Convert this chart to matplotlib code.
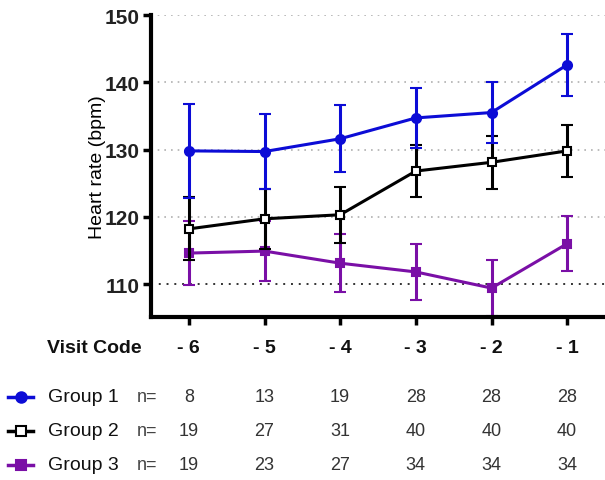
import numpy as np
import matplotlib
matplotlib.use("Agg")
import matplotlib.pyplot as plt
import matplotlib.transforms as mtransforms

plt.rcParams['font.family'] = ['Liberation Sans', 'DejaVu Sans']

# data
visits = [-6, -5, -4, -3, -2, -1]
visit_labels = ['- 6', '- 5', '- 4', '- 3', '- 2', '- 1']

g1_mean = [129.8, 129.7, 131.6, 134.7, 135.5, 142.6]
g1_err = [7.0, 5.6, 5.0, 4.5, 4.5, 4.6]
g2_mean = [118.2, 119.7, 120.3, 126.8, 128.1, 129.8]
g2_err = [4.7, 4.5, 4.2, 3.9, 3.9, 3.9]
g3_mean = [114.6, 114.9, 113.1, 111.8, 109.4, 116.0]
g3_err = [4.7, 4.5, 4.3, 4.1, 4.1, 4.1]

group_names = ['Group 1', 'Group 2', 'Group 3']
n_counts = [
    [8, 13, 19, 28, 28, 28],
    [19, 27, 31, 40, 40, 40],
    [19, 23, 27, 34, 34, 34],
]

blue = '#0c0cd6'
purple = '#7a0fa6'

fig = plt.figure(figsize=(6.05, 4.81), dpi=100)
ax = fig.add_axes([0.2496, 0.3389, 0.7504, 0.6278])

styles = [
    dict(mean=g1_mean, err=g1_err, color=blue, marker='o', ms=6.5, mfc=blue),
    dict(mean=g2_mean, err=g2_err, color='black', marker='s', ms=5.5, mfc='white'),
    dict(mean=g3_mean, err=g3_err, color=purple, marker='s', ms=5.5, mfc=purple),
]

# purple at the bottom, blue on top
for z, s in zip([4, 3, 2], styles):
    ax.errorbar(visits, s['mean'], yerr=s['err'], color=s['color'], lw=2.2,
                marker=s['marker'], ms=s['ms'], mfc=s['mfc'], mec=s['color'],
                mew=1.5, capsize=4, capthick=2.5, elinewidth=2.2, zorder=z)

ax.set_xlim(-6.5, -0.5)
ax.set_ylim(105.1, 150)
ax.set_yticks([110, 120, 130, 140, 150])
ax.set_xticks(visits)
ax.set_xticklabels([])

for y in [120, 130, 140, 150]:
    ax.axhline(y, color='#b0b0b0', ls=(0, (1, 3)), lw=1.2, zorder=1)
ax.axhline(110, color='#333333', ls=(0, (1, 3)), lw=1.4, zorder=1)

for side in ['top', 'right']:
    ax.spines[side].set_visible(False)
for side in ['left', 'bottom']:
    ax.spines[side].set_linewidth(3)
ax.tick_params(axis='both', direction='out', length=6, width=2.5, colors='black')
ax.tick_params(axis='y', labelsize=15, pad=2)
for lbl in ax.get_yticklabels():
    lbl.set_fontweight('bold')
    lbl.set_color('#222222')
ax.set_ylabel('Heart rate (bpm)', fontsize=14, labelpad=-1)

# table underneath the axis: x in data units, y in figure units
trans = mtransforms.blended_transform_factory(ax.transData, fig.transFigure)


def fy(px):
    return 1 - px / 481.0


fig.text(47 / 605, fy(349), 'Visit Code', fontsize=14, fontweight='bold',
         va='center', ha='left', color='#111111')
for x, lab in zip(visits, visit_labels):
    fig.text(x, fy(349), lab, transform=trans, fontsize=14, fontweight='bold',
             ha='center', va='center', color='#111111')

row_y = [398, 432, 466]
for i, (name, counts, s) in enumerate(zip(group_names, n_counts, styles)):
    yy = fy(row_y[i])
    fig.lines.append(plt.Line2D([8 / 605, 33 / 605], [yy, yy], transform=fig.transFigure,
                                color=s['color'], lw=2.5))
    fig.lines.append(plt.Line2D([21 / 605], [yy], transform=fig.transFigure,
                                color=s['color'], marker=s['marker'], ls='none',
                                ms=s['ms'] + 1, mfc=s['mfc'], mec=s['color'], mew=1.5))
    fig.text(48 / 605, yy, name, fontsize=14, va='center', ha='left', color='#111111')
    fig.text(137 / 605, yy, 'n=', fontsize=13, va='center', ha='left', color='#444444')
    for x, c in zip(visits, counts):
        fig.text(x, yy, str(c), transform=trans, fontsize=13, ha='center',
                 va='center', color='#333333')

fig.savefig('out.png', dpi=100)
